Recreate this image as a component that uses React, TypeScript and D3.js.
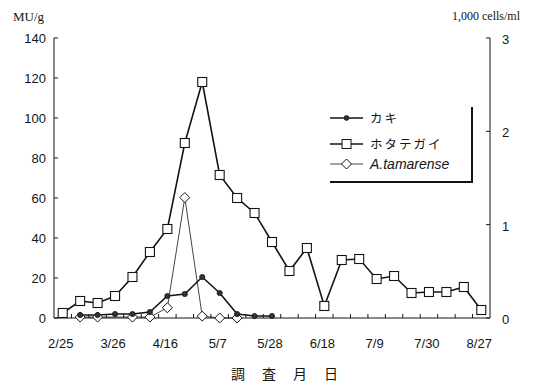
import * as d3 from 'd3';

// survey index 0..24, labelled every third date
const TICK_LABELS = ['2/25', '3/26', '4/16', '5/7', '5/28', '6/18', '7/9', '7/30', '8/27'];
const N_DATES = 25;

// MU/g (left axis)
const scallop: (number | null)[] = [2.5, 8.5, 7.5, 11, 20.5, 33, 44.5, 87.5, 118, 71.5, 60, 52.5, 38, 23.5, 35, 6, 29, 29.5, 19.5, 21, 12.5, 13, 13, 15.5, 4];
const oyster: (number | null)[] = [null, 1.5, 1.5, 2, 2, 3, 11, 12, 20.5, 12.5, 2, 1, 1, null, null, null, null, null, null, null, null, null, null, null, null];
// 1,000 cells/ml (right axis)
const tamarense: (number | null)[] = [null, 0.01, 0.01, null, 0.01, 0.01, 0.11, 1.29, 0.02, 0, 0, null, null, null, null, null, null, null, null, null, null, null, null, null, null];

const LEFT_TICKS = [0, 20, 40, 60, 80, 100, 120, 140];
const RIGHT_TICKS = [0, 1, 2, 3];
const X_TITLE = ['調', '査', '月', '日'];

const INK = '#141414';
const SANS = '"Liberation Sans", Arial, sans-serif';
const SERIF = '"Liberation Serif", "DejaVu Serif", serif';
const JP = '"Noto Sans CJK JP", sans-serif';

const PAD = { l: 54, r: 490, t: 38, b: 318 };

export default function App() {
  const idx = d3.range(N_DATES);
  const x = d3.scaleBand<number>().domain(idx).range([PAD.l, PAD.r]).paddingInner(0).paddingOuter(0);
  const cx = (i: number) => (x(i) ?? 0) + x.bandwidth() / 2;
  const yL = d3.scaleLinear().domain([0, 140]).range([PAD.b, PAD.t]);
  const yR = d3.scaleLinear().domain([0, 3]).range([PAD.b, PAD.t]);

  const pts = (arr: (number | null)[]) =>
    arr.map((v, i) => ({ i, v })).filter(d => d.v !== null) as { i: number; v: number }[];

  const lineL = d3.line<{ i: number; v: number }>().x(d => cx(d.i)).y(d => yL(d.v));
  const lineR = d3.line<{ i: number; v: number }>().x(d => cx(d.i)).y(d => yR(d.v));

  const sq = 9;
  const dm = 5;
  const diamond = (px: number, py: number) => `M${px},${py - dm}L${px + dm},${py}L${px},${py + dm}L${px - dm},${py}Z`;

  const lg = { x0: 330, x1: 363, tx: 370 };
  const legendRows = [
    { y: 118, label: 'カキ', kind: 'dot' },
    { y: 144, label: 'ホタテガイ', kind: 'sq' },
    { y: 164, label: 'A.tamarense', kind: 'dm' },
  ];

  return (
    <svg width={535} height={385} style={{ position: 'absolute', left: 0, top: 0, background: '#fff' }}>
      {/* unit labels */}
      <text x={13} y={21} fontFamily={SERIF} fontSize={13} fill={INK}>MU/g</text>
      <text x={452} y={20} fontFamily={SERIF} fontSize={12} fill={INK}>1,000 cells/ml</text>

      {/* left axis */}
      <line x1={PAD.l} x2={PAD.l} y1={PAD.t} y2={PAD.b} stroke={INK} strokeWidth={1} />
      {LEFT_TICKS.map(t => (
        <g key={'l' + t}>
          <line x1={PAD.l} x2={PAD.l + 4} y1={yL(t)} y2={yL(t)} stroke={INK} />
          <text x={46} y={yL(t) + 5} textAnchor="end" fontFamily={SANS} fontSize={13} fill={INK}>{t}</text>
        </g>
      ))}

      {/* right axis */}
      <line x1={PAD.r} x2={PAD.r} y1={PAD.t} y2={PAD.b} stroke={INK} strokeWidth={1} />
      {RIGHT_TICKS.map(t => (
        <g key={'r' + t}>
          <line x1={PAD.r - 4} x2={PAD.r} y1={yR(t)} y2={yR(t)} stroke={INK} />
          <text x={502} y={yR(t) + 6} fontFamily={SANS} fontSize={13} fill={INK}>{t}</text>
        </g>
      ))}

      {/* x axis */}
      <line x1={PAD.l} x2={PAD.r} y1={PAD.b} y2={PAD.b} stroke={INK} />
      {idx.slice(1).map(i => (
        <line key={'xt' + i} x1={x(i)} x2={x(i)} y1={PAD.b} y2={PAD.b - 4} stroke={INK} />
      ))}
      {TICK_LABELS.map((lab, k) => (
        <text key={lab} x={cx(k * 3) - 2} y={348} textAnchor="middle" fontFamily={SANS} fontSize={13} fill={INK}>{lab}</text>
      ))}
      {X_TITLE.map((ch, k) => (
        <text key={ch} x={238 + k * 31} y={379} textAnchor="middle" fontFamily={JP} fontSize={14} fill={INK}>{ch}</text>
      ))}

      {/* A. tamarense */}
      <path d={lineR(pts(tamarense)) ?? ''} fill="none" stroke={INK} strokeWidth={0.8} />
      {/* scallop */}
      <path d={lineL(pts(scallop)) ?? ''} fill="none" stroke={INK} strokeWidth={1.6} />
      {/* oyster */}
      <path d={lineL(pts(oyster)) ?? ''} fill="none" stroke={INK} strokeWidth={1.6} />

      {pts(tamarense).map(d => (
        <path key={'d' + d.i} d={diamond(cx(d.i), yR(d.v))} fill="#fff" stroke={INK} strokeWidth={1} />
      ))}
      {pts(scallop).map(d => (
        <rect key={'s' + d.i} x={cx(d.i) - sq / 2} y={yL(d.v) - sq / 2} width={sq} height={sq} fill="#fff" stroke={INK} strokeWidth={1.1} />
      ))}
      {pts(oyster).map(d => (
        <circle key={'o' + d.i} cx={cx(d.i)} cy={yL(d.v)} r={2.6} fill="#333" stroke={INK} strokeWidth={0.8} />
      ))}

      {/* legend */}
      <line x1={472} x2={472} y1={107} y2={183} stroke={INK} strokeWidth={2} />
      <line x1={330} x2={473} y1={182} y2={182} stroke={INK} strokeWidth={2} />
      {legendRows.map(r => {
        const mx = (lg.x0 + lg.x1) / 2;
        return (
          <g key={r.label}>
            <line x1={lg.x0} x2={lg.x1} y1={r.y} y2={r.y} stroke={INK} strokeWidth={r.kind === 'dm' ? 0.8 : 1.4} />
            {r.kind === 'dot' && <circle cx={mx} cy={r.y} r={2.4} fill="#333" stroke={INK} strokeWidth={0.8} />}
            {r.kind === 'sq' && <rect x={mx - 4.5} y={r.y - 4.5} width={9} height={9} fill="#fff" stroke={INK} />}
            {r.kind === 'dm' && <path d={diamond(mx, r.y)} fill="#fff" stroke={INK} />}
            {r.kind === 'dm' ? (
              <text x={lg.tx} y={r.y + 5} fontFamily={SANS} fontStyle="italic" fontSize={14} fill={INK}>{r.label}</text>
            ) : (
              <text x={lg.tx} y={r.y + 5} fontFamily={JP} fontSize={12.5} letterSpacing={2} fill={INK}>{r.label}</text>
            )}
          </g>
        );
      })}
    </svg>
  );
}
